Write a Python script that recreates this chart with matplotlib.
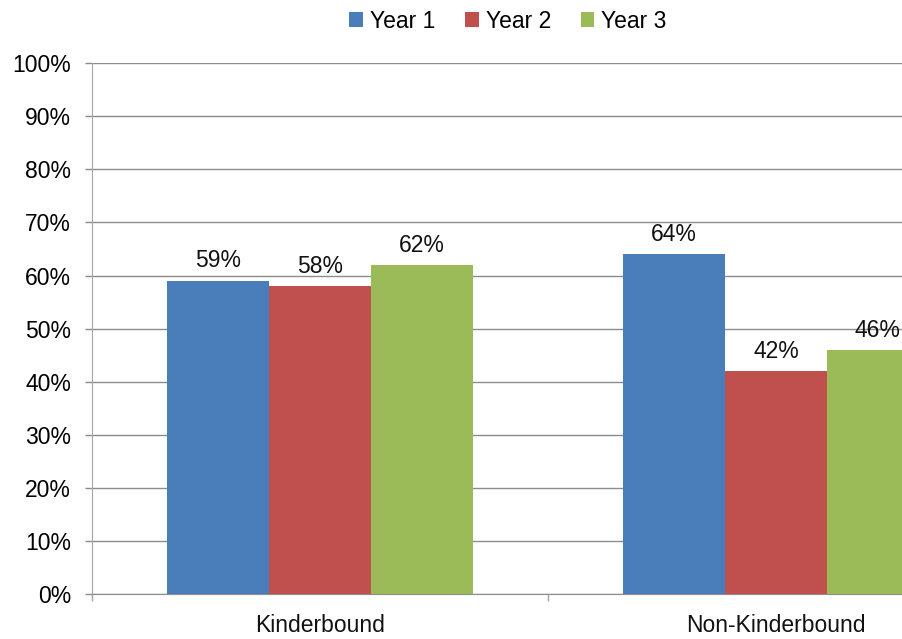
import matplotlib
matplotlib.use("Agg")
import matplotlib.pyplot as plt
import numpy as np

categories = ["Kinderbound", "Non-Kinderbound"]
series = ["Year 1", "Year 2", "Year 3"]
year1 = [59, 64]
year2 = [58, 42]
year3 = [62, 46]
colors = ["#4a7ebb", "#c0504d", "#9bbb59"]

plt.rcParams["font.family"] = ["Liberation Sans", "DejaVu Sans"]

W, H = 902, 639
fig = plt.figure(figsize=(W / 100, H / 100), dpi=100)
# plot area runs past the right edge of the canvas
ax = fig.add_axes([92 / W, 44.7 / H, 912 / W, 531.3 / H])

x = np.arange(len(categories))
width = 0.223
grid_col = "#8c8c8c"
axis_col = "#a6a6a6"
fs = 16.5

for i, (name, vals) in enumerate(zip(series, [year1, year2, year3])):
    pos = x + (i - 1) * width
    bars = ax.bar(pos, vals, width, color=colors[i], label=name, zorder=3)
    for b, v in zip(bars, vals):
        ax.annotate(f"{v}%", (b.get_x() + b.get_width() / 2, v),
                    xytext=(0, 6), textcoords="offset points",
                    ha="center", va="bottom", fontsize=fs, color="#111111")

ax.set_xlim(-0.5, 1.5)
ax.set_ylim(0, 100)
ax.set_yticks(range(0, 101, 10))
ax.set_yticklabels([f"{v}%" for v in range(0, 101, 10)])
ax.yaxis.grid(True, color=grid_col, linewidth=1.0, zorder=0)
ax.tick_params(axis="y", length=5, width=1.0, color=grid_col, labelsize=fs, pad=10)

# category labels centred, tick marks between categories
ax.set_xticks([-0.5, 0.5, 1.5])
ax.set_xticklabels([])
ax.tick_params(axis="x", length=5, width=1.0, color=axis_col)
for xi, c in zip(x, categories):
    ax.annotate(c, (xi, 0), xycoords=("data", "figure fraction"),
                xytext=(0, 2), textcoords="offset pixels",
                ha="center", va="bottom", fontsize=fs, color="#111111")

for s in ["top", "right"]:
    ax.spines[s].set_visible(False)
ax.spines["left"].set_color(axis_col)
ax.spines["bottom"].set_color(grid_col)

fig.legend(loc="center", bbox_to_anchor=(508 / W, 1 - 21 / H), ncol=3, frameon=False,
           fontsize=fs, handlelength=0.6, handleheight=0.6, handletextpad=0.3,
           columnspacing=1.3)

fig.savefig("out.png", dpi=100)
